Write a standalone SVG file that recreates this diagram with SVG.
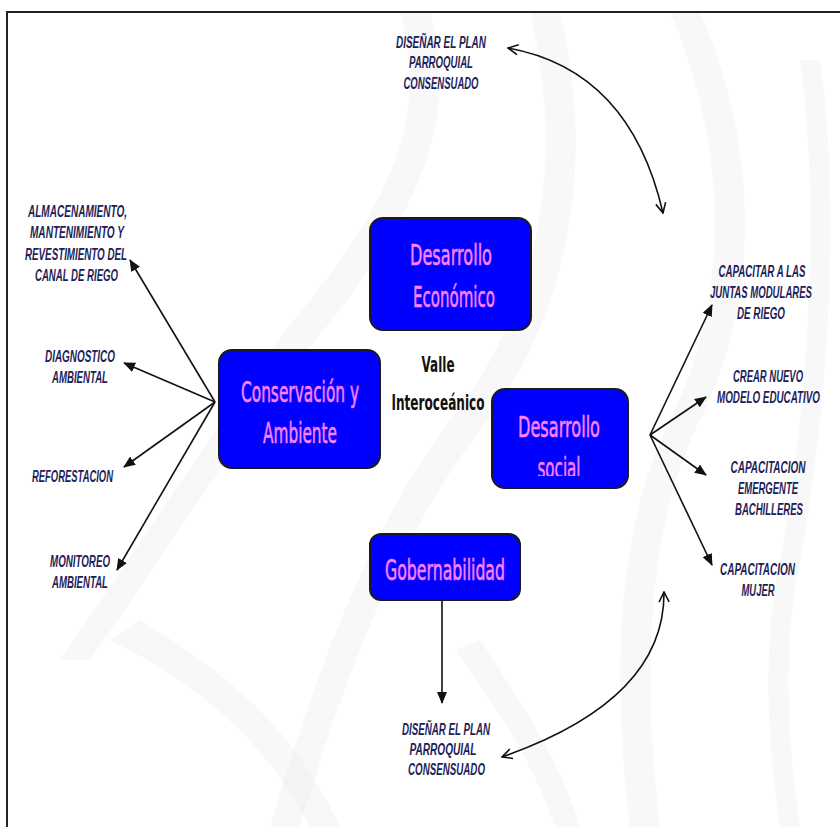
<svg xmlns="http://www.w3.org/2000/svg" width="840" height="827" viewBox="0 0 840 827">
<defs>
<style>
.box{fill:#0000ff;stroke:#1a1a1a;stroke-width:2}
.bt{font-family:"DejaVu Sans","Liberation Sans",sans-serif;font-size:29px;fill:#ff80ff;stroke:#ff80ff;stroke-width:0.6;text-anchor:middle}
.ct{font-family:"DejaVu Sans","Liberation Sans",sans-serif;font-size:22px;font-weight:bold;fill:#111;text-anchor:middle}
.lb{font-family:"Liberation Sans Narrow","Liberation Sans","DejaVu Sans Condensed",sans-serif;font-size:16px;font-weight:bold;font-style:italic;fill:#1e1e5a;text-anchor:middle}
.ar{stroke:#111;stroke-width:1.6;fill:none}
.bg{fill:#ececec;opacity:0.35}
</style>
<marker id="tri" viewBox="0 0 12 10" refX="11" refY="5" markerWidth="12" markerHeight="10" markerUnits="userSpaceOnUse" orient="auto">
<path d="M0,0 L12,5 L0,10 Z" fill="#111"/>
</marker>
<marker id="open" viewBox="0 0 12 12" refX="11" refY="6" markerWidth="12" markerHeight="12" markerUnits="userSpaceOnUse" orient="auto-start-reverse">
<path d="M1,1 L11,6 L1,11" fill="none" stroke="#111" stroke-width="1.6"/>
</marker>
<clipPath id="socialClip"><rect x="492" y="389" width="136" height="87"/></clipPath>
</defs>
<rect width="840" height="827" fill="#ffffff"/>
<g id="background">
<path class="bg" d="M430,12 C470,150 380,260 300,360 C230,450 160,560 90,660 L60,660 C130,560 200,450 270,350 C350,250 440,150 400,12 Z"/>
<path class="bg" d="M560,12 C600,180 560,330 480,430 C420,510 360,620 300,827 L270,827 C330,620 390,500 450,420 C530,320 570,180 530,12 Z"/>
<path class="bg" d="M700,12 C760,150 760,300 700,420 C650,520 640,660 660,827 L630,827 C610,660 620,520 670,420 C730,300 730,150 670,12 Z"/>
<path class="bg" d="M820,60 C840,200 830,400 800,560 C780,660 790,760 800,827 L780,827 C770,760 760,660 780,560 C810,400 820,200 800,60 Z"/>
<path class="bg" d="M140,620 C240,680 300,740 340,827 L310,827 C270,750 210,690 110,640 Z"/>
<path class="bg" d="M480,640 C520,700 560,760 580,827 L555,827 C535,765 495,705 455,650 Z"/>
</g>
<g id="frame">
<path d="M7,827 L7,12 L840,12" fill="none" stroke="#222" stroke-width="2"/>
</g>
<g id="connectors">
<path class="ar" d="M215,402 L130,260" marker-end="url(#tri)"/>
<path class="ar" d="M215,402 L124,363" marker-end="url(#tri)"/>
<path class="ar" d="M215,402 L124,467" marker-end="url(#tri)"/>
<path class="ar" d="M215,402 L117,570" marker-end="url(#tri)"/>
<path class="ar" d="M650,435 L712,305" marker-end="url(#tri)"/>
<path class="ar" d="M650,435 L706,397" marker-end="url(#tri)"/>
<path class="ar" d="M650,435 L706,475" marker-end="url(#tri)"/>
<path class="ar" d="M650,435 L712,565" marker-end="url(#tri)"/>
<path class="ar" d="M442,600 L442,703" marker-end="url(#tri)"/>
<path class="ar" d="M508,48 Q630,70 663,213" marker-start="url(#open)" marker-end="url(#open)"/>
<path class="ar" d="M502,757 Q665,700 664,592" marker-start="url(#open)" marker-end="url(#open)"/>
</g>
<g id="node-economico">
<rect class="box" x="370" y="218" width="161" height="112" rx="13"/>
<text class="bt" x="451" y="265" textLength="82" lengthAdjust="spacingAndGlyphs">Desarrollo</text>
<text class="bt" x="454" y="307" textLength="82" lengthAdjust="spacingAndGlyphs">Económico</text>
</g>
<g id="node-conservacion">
<rect class="box" x="219" y="350" width="161" height="118" rx="13"/>
<text class="bt" x="300" y="402" textLength="118" lengthAdjust="spacingAndGlyphs">Conservación y</text>
<text class="bt" x="300" y="443" textLength="74" lengthAdjust="spacingAndGlyphs">Ambiente</text>
</g>
<g id="node-social">
<rect class="box" x="492" y="389" width="136" height="99" rx="13"/>
<text class="bt" x="559" y="437" textLength="82" lengthAdjust="spacingAndGlyphs">Desarrollo</text>
<text class="bt" x="559" y="478" textLength="43" lengthAdjust="spacingAndGlyphs" clip-path="url(#socialClip)">social</text>
</g>
<g id="node-gobernabilidad">
<rect class="box" x="370" y="534" width="150" height="66" rx="11"/>
<text class="bt" x="445" y="580" textLength="120" lengthAdjust="spacingAndGlyphs">Gobernabilidad</text>
</g>
<g id="node-valle">
<text class="ct" x="438" y="372" textLength="33" lengthAdjust="spacingAndGlyphs">Valle</text>
<text class="ct" x="438" y="410" textLength="93" lengthAdjust="spacingAndGlyphs">Interoceánico</text>
</g>
<g id="node-plan-top">
<text class="lb" x="441" y="48" textLength="90" lengthAdjust="spacingAndGlyphs">DISEÑAR EL PLAN</text>
<text class="lb" x="441" y="68" textLength="64" lengthAdjust="spacingAndGlyphs">PARROQUIAL</text>
<text class="lb" x="441" y="89" textLength="75" lengthAdjust="spacingAndGlyphs">CONSENSUADO</text>
</g>
<g id="node-almacenamiento">
<text class="lb" x="77.5" y="217" textLength="99" lengthAdjust="spacingAndGlyphs">ALMACENAMIENTO,</text>
<text class="lb" x="77" y="238" textLength="94" lengthAdjust="spacingAndGlyphs">MANTENIMIENTO Y</text>
<text class="lb" x="76" y="260" textLength="102" lengthAdjust="spacingAndGlyphs">REVESTIMIENTO DEL</text>
<text class="lb" x="76.5" y="281" textLength="83" lengthAdjust="spacingAndGlyphs">CANAL DE RIEGO</text>
</g>
<g id="node-diagnostico">
<text class="lb" x="80" y="362" textLength="70" lengthAdjust="spacingAndGlyphs">DIAGNOSTICO</text>
<text class="lb" x="80" y="383" textLength="56" lengthAdjust="spacingAndGlyphs">AMBIENTAL</text>
</g>
<g id="node-reforestacion">
<text class="lb" x="72.5" y="482" textLength="81" lengthAdjust="spacingAndGlyphs">REFORESTACION</text>
</g>
<g id="node-monitoreo">
<text class="lb" x="80" y="567" textLength="60" lengthAdjust="spacingAndGlyphs">MONITOREO</text>
<text class="lb" x="80" y="588" textLength="56" lengthAdjust="spacingAndGlyphs">AMBIENTAL</text>
</g>
<g id="node-juntas">
<text class="lb" x="762" y="277" textLength="87" lengthAdjust="spacingAndGlyphs">CAPACITAR A LAS</text>
<text class="lb" x="761" y="298" textLength="102" lengthAdjust="spacingAndGlyphs">JUNTAS MODULARES</text>
<text class="lb" x="761" y="319" textLength="48" lengthAdjust="spacingAndGlyphs">DE RIEGO</text>
</g>
<g id="node-modelo">
<text class="lb" x="768" y="382" textLength="70" lengthAdjust="spacingAndGlyphs">CREAR NUEVO</text>
<text class="lb" x="768.5" y="403" textLength="103" lengthAdjust="spacingAndGlyphs">MODELO EDUCATIVO</text>
</g>
<g id="node-bachilleres">
<text class="lb" x="768" y="473" textLength="75" lengthAdjust="spacingAndGlyphs">CAPACITACION</text>
<text class="lb" x="768" y="494" textLength="60" lengthAdjust="spacingAndGlyphs">EMERGENTE</text>
<text class="lb" x="769" y="515" textLength="68" lengthAdjust="spacingAndGlyphs">BACHILLERES</text>
</g>
<g id="node-mujer">
<text class="lb" x="757.5" y="575" textLength="75" lengthAdjust="spacingAndGlyphs">CAPACITACION</text>
<text class="lb" x="758" y="596" textLength="33" lengthAdjust="spacingAndGlyphs">MUJER</text>
</g>
<g id="node-plan-bottom">
<text class="lb" x="446" y="735" textLength="88" lengthAdjust="spacingAndGlyphs">DISEÑAR EL PLAN</text>
<text class="lb" x="443" y="755" textLength="67" lengthAdjust="spacingAndGlyphs">PARROQUIAL</text>
<text class="lb" x="446.5" y="775" textLength="77" lengthAdjust="spacingAndGlyphs">CONSENSUADO</text>
</g>
</svg>
